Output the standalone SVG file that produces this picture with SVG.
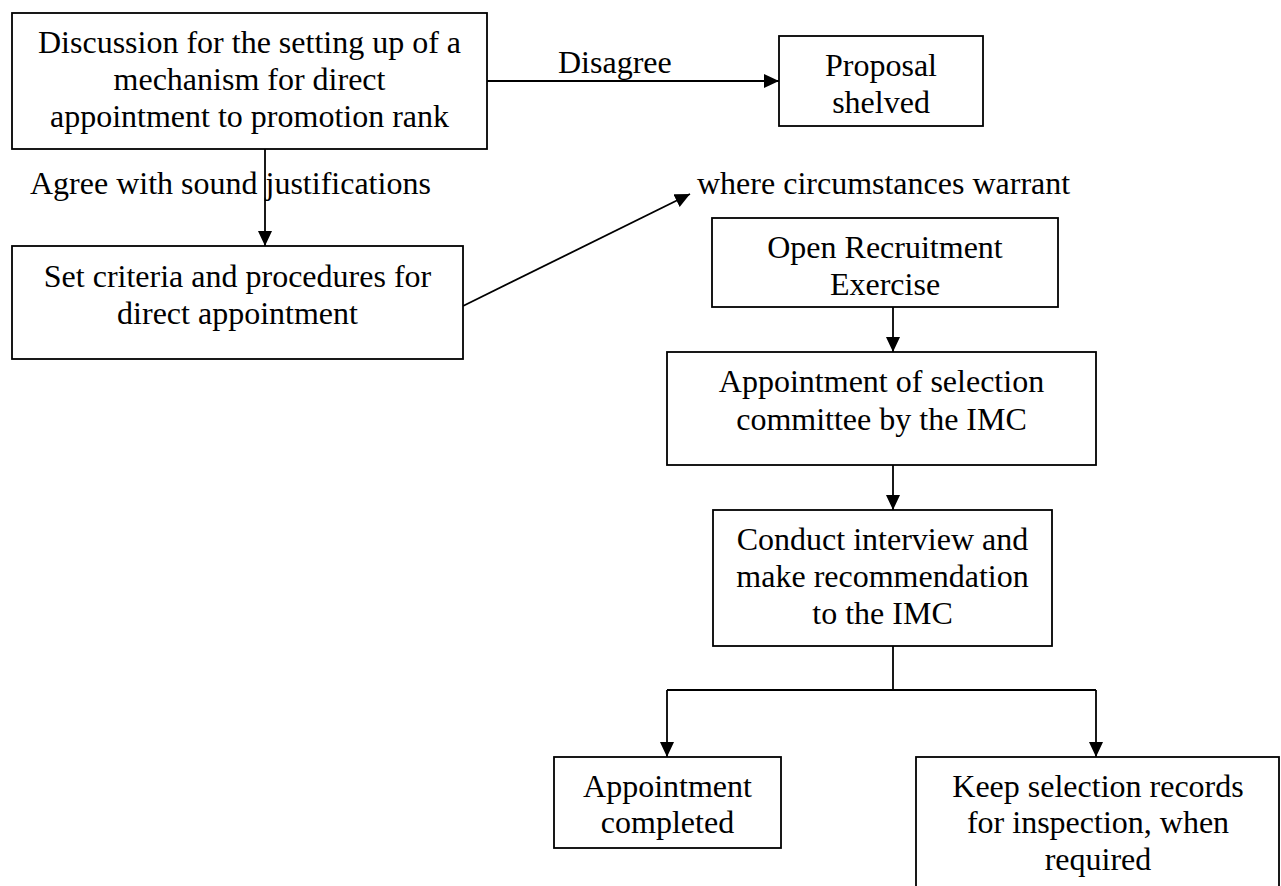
<svg xmlns="http://www.w3.org/2000/svg" width="1281" height="886" viewBox="0 0 1281 886">
<defs>
<style>
.box{fill:#fff;stroke:#000;stroke-width:1.8}
.t{font-family:"Liberation Serif","Times New Roman",serif;font-size:32px;fill:#000}
.c{text-anchor:middle}
.ln{fill:none;stroke:#000;stroke-width:1.8}
</style>
<marker id="ah" markerUnits="userSpaceOnUse" markerWidth="16" markerHeight="15" refX="15" refY="7" orient="auto">
<path d="M0,0 L15,7 L0,14 z" fill="#000"/>
</marker>
</defs>
<rect width="1281" height="886" fill="#fff"/>
<g id="connectors">
<line class="ln" x1="487" y1="81" x2="779" y2="81" marker-end="url(#ah)"/>
<line class="ln" x1="265" y1="149" x2="265" y2="246" marker-end="url(#ah)"/>
<line class="ln" x1="463" y1="306" x2="690" y2="194" marker-end="url(#ah)"/>
<line class="ln" x1="893" y1="307" x2="893" y2="352" marker-end="url(#ah)"/>
<line class="ln" x1="893" y1="465" x2="893" y2="510" marker-end="url(#ah)"/>
<path class="ln" d="M893,646 V690 M667,690 H1096"/>
<line class="ln" x1="667" y1="690" x2="667" y2="757" marker-end="url(#ah)"/>
<line class="ln" x1="1096" y1="690" x2="1096" y2="757" marker-end="url(#ah)"/>
<text class="t" x="558" y="73">Disagree</text>
<text class="t" x="30" y="194">Agree with sound justifications</text>
<text class="t" x="697" y="194">where circumstances warrant</text>
</g>
<g id="n1">
<rect class="box" x="12" y="13" width="475" height="136"/>
<text class="t c" x="249.5" y="53">Discussion for the setting up of a</text>
<text class="t c" x="249.5" y="90">mechanism for direct</text>
<text class="t c" x="249.5" y="127">appointment to promotion rank</text>
</g>
<g id="n2">
<rect class="box" x="779" y="36" width="204" height="90"/>
<text class="t c" x="881" y="76">Proposal</text>
<text class="t c" x="881" y="113">shelved</text>
</g>
<g id="n3">
<rect class="box" x="12" y="246" width="451" height="113"/>
<text class="t c" x="237.5" y="287">Set criteria and procedures for</text>
<text class="t c" x="237.5" y="324">direct appointment</text>
</g>
<g id="n4">
<rect class="box" x="712" y="218" width="346" height="89"/>
<text class="t c" x="885" y="258">Open Recruitment</text>
<text class="t c" x="885" y="295">Exercise</text>
</g>
<g id="n5">
<rect class="box" x="667" y="352" width="429" height="113"/>
<text class="t c" x="881.5" y="392">Appointment of selection</text>
<text class="t c" x="881.5" y="430">committee by the IMC</text>
</g>
<g id="n6">
<rect class="box" x="713" y="510" width="339" height="136"/>
<text class="t c" x="882.5" y="550">Conduct interview and</text>
<text class="t c" x="882.5" y="587">make recommendation</text>
<text class="t c" x="882.5" y="624">to the IMC</text>
</g>
<g id="n7">
<rect class="box" x="554" y="757" width="227" height="91"/>
<text class="t c" x="667.5" y="797">Appointment</text>
<text class="t c" x="667.5" y="833">completed</text>
</g>
<g id="n8">
<rect class="box" x="916" y="757" width="363" height="140"/>
<text class="t c" x="1098" y="797">Keep selection records</text>
<text class="t c" x="1098" y="833">for inspection, when</text>
<text class="t c" x="1098" y="870">required</text>
</g>
</svg>
